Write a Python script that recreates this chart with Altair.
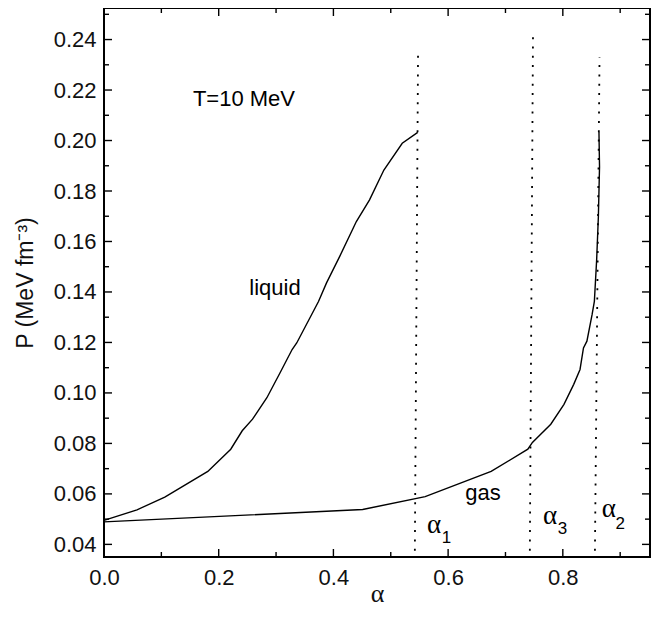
import altair as alt
import pandas as pd

# ---- data ----
liquid_alpha = [0.0, 0.0575, 0.106, 0.181, 0.221, 0.241, 0.259, 0.284, 0.307, 0.328, 0.336,
                0.374, 0.388, 0.411, 0.440, 0.463, 0.488, 0.520, 0.547]
liquid_p = [0.0495, 0.0537, 0.0587, 0.0689, 0.0777, 0.0850, 0.0896, 0.0981, 0.1080, 0.1172, 0.1198,
            0.1362, 0.1436, 0.1541, 0.1679, 0.1765, 0.1883, 0.1989, 0.2032]

gas_alpha = [0.0, 0.388, 0.451, 0.560, 0.675, 0.739, 0.747, 0.779, 0.802, 0.819, 0.830, 0.836,
             0.842, 0.851, 0.855, 0.859, 0.862, 0.864, 0.863]
gas_p = [0.0489, 0.0531, 0.0538, 0.0589, 0.0689, 0.0777, 0.0804, 0.0876, 0.0955, 0.1034, 0.1093,
         0.1178, 0.1205, 0.1310, 0.1363, 0.1528, 0.1699, 0.1896, 0.2034]

marker_names = ["a1", "a1", "a3", "a3", "a2", "a2"]
marker_alpha = [0.542, 0.5476, 0.7425, 0.748, 0.856, 0.864]
marker_p = [0.0375, 0.2356, 0.0375, 0.2423, 0.0375, 0.2330]

x_major = [0.0, 0.2, 0.4, 0.6, 0.8]
x_minor = [0.1, 0.3, 0.5, 0.7, 0.9]
y_major = [0.04, 0.06, 0.08, 0.10, 0.12, 0.14, 0.16, 0.18, 0.20, 0.22, 0.24]
y_minor = [0.05, 0.07, 0.09, 0.11, 0.13, 0.15, 0.17, 0.19, 0.21, 0.23, 0.25]

label_text = ["T=10 MeV", "liquid", "gas"]
label_alpha = [0.155, 0.2534, 0.630]
label_p = [0.2135, 0.1386, 0.0577]

greek_text = ["α", "α", "α"]
greek_alpha = [0.563, 0.7655, 0.868]
greek_p = [0.0445, 0.0479, 0.0508]

sub_text = ["1", "3", "2"]
sub_alpha = [0.589, 0.791, 0.892]
sub_p = [0.0407, 0.0440, 0.0462]

X_DOMAIN = [0.0, 0.952]
Y_DOMAIN = [0.035, 0.2525]
W, H = 546, 549
FONT = "Liberation Sans"

# ---- tables ----
curves = pd.DataFrame({
    "alpha": liquid_alpha + gas_alpha,
    "P": liquid_p + gas_p,
    "series": ["liquid"] * len(liquid_alpha) + ["gas"] * len(gas_alpha),
    "idx": list(range(len(liquid_alpha))) + list(range(len(gas_alpha))),
})
markers = pd.DataFrame({"alpha": marker_alpha, "P": marker_p, "name": marker_names})
labels = pd.DataFrame({"alpha": label_alpha, "P": label_p, "text": label_text})
greek = pd.DataFrame({"alpha": greek_alpha, "P": greek_p, "text": greek_text})
subs = pd.DataFrame({"alpha": sub_alpha, "P": sub_p, "text": sub_text})

xs = alt.Scale(domain=X_DOMAIN, nice=False, zero=False)
ys = alt.Scale(domain=Y_DOMAIN, nice=False, zero=False)

X = alt.X("alpha:Q", scale=xs, axis=alt.Axis(
    values=x_major, format=".1f", title="α", titleFont="Liberation Serif", titleFontSize=26,
    titleFontWeight="normal", titleBaseline="alphabetic", titleY=44, labelPadding=10,
    labelFlush=False, labelFont=FONT, labelFontSize=22, labelColor="#111", titleColor="#111",
    ticks=False, domain=False, grid=False))
Y = alt.Y("P:Q", scale=ys, axis=alt.Axis(
    values=y_major, format=".2f", title="P (MeV fm⁻³)", titleFont=FONT, titleFontSize=23,
    titleFontWeight="normal", titleBaseline="alphabetic", titleX=-72, titleY=H / 2,
    titleAlign="center", labelPadding=8, labelFlush=False,
    labelFont=FONT, labelFontSize=22, labelColor="#111", titleColor="#111",
    ticks=False, domain=False, grid=False))

base = alt.Chart(curves)
lines = base.mark_line(color="black", strokeWidth=1.4).encode(
    x=X, y=Y, detail="series:N", order="idx:Q")

dotted = alt.Chart(markers).mark_line(color="black", strokeWidth=1.8, strokeDash=[2, 7.3]).encode(
    x=alt.X("alpha:Q", scale=xs), y=alt.Y("P:Q", scale=ys), detail="name:N")

text_l = alt.Chart(labels).mark_text(align="left", baseline="alphabetic", font=FONT, fontSize=22,
                                     color="black").encode(
    x=alt.X("alpha:Q", scale=xs), y=alt.Y("P:Q", scale=ys), text="text:N")
greek_l = alt.Chart(greek).mark_text(align="left", baseline="alphabetic", font="Liberation Serif",
                                     fontSize=27, color="black").encode(
    x=alt.X("alpha:Q", scale=xs), y=alt.Y("P:Q", scale=ys), text="text:N")
sub_l = alt.Chart(subs).mark_text(align="left", baseline="alphabetic", font=FONT, fontSize=17,
                                  color="black").encode(
    x=alt.X("alpha:Q", scale=xs), y=alt.Y("P:Q", scale=ys), text="text:N")

def xticks(vals, length):
    d = pd.DataFrame({"alpha": vals})
    bot = alt.Chart(d).mark_rule(color="black", strokeWidth=1.4).encode(
        x=alt.X("alpha:Q", scale=xs), y=alt.value(H), y2=alt.value(H - length))
    top = alt.Chart(d).mark_rule(color="black", strokeWidth=1.4).encode(
        x=alt.X("alpha:Q", scale=xs), y=alt.value(0), y2=alt.value(length))
    return [bot, top]

def yticks(vals, length):
    d = pd.DataFrame({"P": vals})
    left = alt.Chart(d).mark_rule(color="black", strokeWidth=1.4).encode(
        y=alt.Y("P:Q", scale=ys), x=alt.value(0), x2=alt.value(length))
    right = alt.Chart(d).mark_rule(color="black", strokeWidth=1.4).encode(
        y=alt.Y("P:Q", scale=ys), x=alt.value(W), x2=alt.value(W - length))
    return [left, right]

tick_layers = xticks(x_major, 8) + xticks(x_minor, 5) + yticks(y_major, 8) + yticks(y_minor, 5)

chart = alt.layer(lines, dotted, text_l, greek_l, sub_l, *tick_layers).properties(
    width=W, height=H,
    background="white",
    autosize=alt.AutoSizeParams(type="none"),
    padding={"left": 96, "top": 0, "right": 1, "bottom": 52},
).configure_view(
    stroke="black", strokeWidth=2
)

chart.save("out.html", embed_options={"renderer": "svg", "actions": False})
